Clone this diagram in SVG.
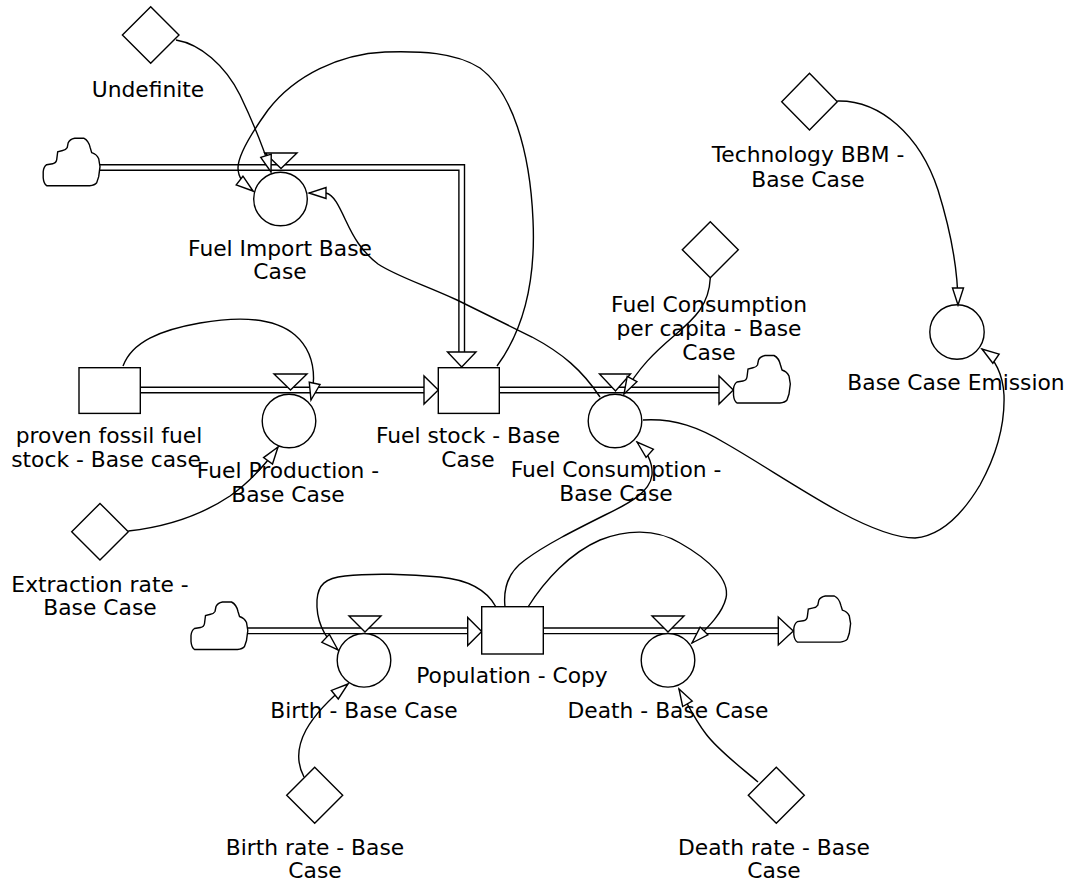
<svg xmlns="http://www.w3.org/2000/svg" width="1074" height="888" viewBox="0 0 1074 888">
  <style>
    .ln { fill: none; stroke: #000; stroke-width: 1.4; }
    .sh { fill: #fff; stroke: #000; stroke-width: 1.4; }
    .pipe-o { fill: none; stroke: #000; stroke-width: 7; stroke-linejoin: miter; }
    .pipe-i { fill: none; stroke: #fff; stroke-width: 4.2; stroke-linejoin: miter; }
    .lbl { font-family: "DejaVu Sans", "Liberation Sans", sans-serif; font-size: 21.8px; fill: #000; text-anchor: middle; }
    .cn { fill: none; stroke: #000; stroke-width: 1.4; marker-end: url(#ah); }
  </style>
  <defs>
    <marker id="ah" viewBox="-19 -8 21 16" refX="0" refY="0" markerWidth="21" markerHeight="16" markerUnits="userSpaceOnUse" orient="auto">
      <path d="M0,0 L-17,-5.5 L-17,5.5 Z" fill="#fff" stroke="#000" stroke-width="1.4"/>
    </marker>
    <path id="cloud" d="M4,48 L47,48 Q52,47.5 54,45 L56,39 L57.3,29 L56,21 Q54,16.5 49,15 L47.5,10 Q46,3 41,0.5 L32,0.5 Q27,1.5 25.5,5 L24.5,10 Q23,12.5 20,12.8 L15,14 L14,22 Q13.5,25.5 10,26 L4,27 Q1,29 0.5,34 L0.5,40 Q1,46 4,48 Z"/>
  </defs>

  <rect width="1074" height="888" fill="#fff"/>

  <!-- material flows (double pipes) -->
  <g id="flows">
    <path class="pipe-o" d="M96,167.5 H461.7 V352"/>
    <path class="pipe-i" d="M96,167.5 H461.7 V352"/>
    <path class="pipe-o" d="M140,390 H424"/>
    <path class="pipe-i" d="M140,390 H424"/>
    <path class="pipe-o" d="M499,390 H719"/>
    <path class="pipe-i" d="M499,390 H719"/>
    <path class="pipe-o" d="M244,630.8 H468"/>
    <path class="pipe-i" d="M244,630.8 H468"/>
    <path class="pipe-o" d="M543,630.8 H778.3"/>
    <path class="pipe-i" d="M543,630.8 H778.3"/>
    <!-- flow arrowheads -->
    <polygon class="sh" points="447.5,352 476,352 461.7,367"/>
    <polygon class="sh" points="424,376 424,404 438.3,390"/>
    <polygon class="sh" points="719,376 719,404 733.3,390"/>
    <polygon class="sh" points="467.7,617.5 467.7,645.5 481.7,631.5"/>
    <polygon class="sh" points="778.3,617 778.3,645 793.3,631"/>
  </g>

  <!-- sources and sinks -->
  <g id="cloud-import"><use href="#cloud" class="sh" transform="translate(42.7,137.7)"/></g>
  <g id="cloud-fuel-out"><use href="#cloud" class="sh" transform="translate(733,355)"/></g>
  <g id="cloud-birth-in"><use href="#cloud" class="sh" transform="translate(190.5,601.5)"/></g>
  <g id="cloud-death-out"><use href="#cloud" class="sh" transform="translate(793.3,595.5) scale(1,0.97)"/></g>

  <!-- stocks -->
  <g id="proven-stock"><rect class="sh" x="79" y="367.7" width="61.3" height="45.7"/></g>
  <g id="fuel-stock"><rect class="sh" x="438.3" y="367.7" width="61" height="45.7"/></g>
  <g id="population"><rect class="sh" x="481.7" y="606.7" width="61.6" height="47.3"/></g>

  <!-- rates -->
  <g id="fuel-import">
    <circle class="sh" cx="280.5" cy="199" r="26.8"/>
    <polygon class="sh" points="265,153 297,153 281,168.5"/>
  </g>
  <g id="fuel-production">
    <circle class="sh" cx="289" cy="421" r="26.8"/>
    <polygon class="sh" points="274,374 307,374 290.5,390"/>
  </g>
  <g id="fuel-consumption">
    <circle class="sh" cx="615" cy="421" r="26.8"/>
    <polygon class="sh" points="599.5,374 630.5,374 615.5,391"/>
  </g>
  <g id="birth">
    <circle class="sh" cx="364" cy="660.3" r="26.8"/>
    <polygon class="sh" points="349,616 381,616 365,632"/>
  </g>
  <g id="death">
    <circle class="sh" cx="668" cy="660.3" r="26.8"/>
    <polygon class="sh" points="652,616 684,616 668,632"/>
  </g>

  <!-- auxiliaries -->
  <g id="base-case-emission"><circle class="sh" cx="957" cy="332" r="27.2"/></g>

  <!-- constants -->
  <g id="undefinite"><polygon class="sh" points="150.7,6.7 179,35 150.7,63.3 122.4,35"/></g>
  <g id="consumption-per-capita"><polygon class="sh" points="710.3,221.7 738.3,249.7 710.3,277.7 682.3,249.7"/></g>
  <g id="technology-bbm"><polygon class="sh" points="809.5,73.3 837.3,101.7 809.5,130 781.7,101.7"/></g>
  <g id="extraction-rate"><polygon class="sh" points="100,503.4 128.3,531.7 100,560 71.7,531.7"/></g>
  <g id="birth-rate"><polygon class="sh" points="314.7,767.3 342.7,795.3 314.7,823.3 286.7,795.3"/></g>
  <g id="death-rate"><polygon class="sh" points="776.3,767.3 804.3,795.3 776.3,823.3 748.3,795.3"/></g>

  <!-- information links -->
  <g id="connectors">
    <path class="cn" d="M176,40 C200,44 225,65 240,95 C252,120 263,146 271,172"/>
    <path class="cn" d="M497,366 C522,332 536,285 533,220 C530,150 512,92 480,68 C455,52 420,51 385,52 C340,54 295,75 268,110 C250,135 238,155 238,168 C238,178 244,184 253,191"/>
    <path class="cn" d="M600,397 C582,370 562,353 532,337 L457,300 C422,284 396,276 378,264 C361,251 353,236 346,221 C339,206 334,195 326,193 L309,193"/>
    <path class="cn" d="M123,366 C132,342 160,330 200,323 C240,316 275,318 295,335 C310,348 318,368 311,400"/>
    <path class="cn" d="M128.3,531 C165,527 200,516 230,496 C250,482 265,465 278,447"/>
    <path class="cn" d="M710.3,278 C709,305 695,318 675,335 C655,352 638,368 624,394"/>
    <path class="cn" d="M837.3,101 C880,100 920,135 938,190 C952,235 958,270 958,305"/>
    <path class="cn" d="M643,420 C675,418 700,428 725,443 C760,463 800,490 840,512 C870,528 895,538 915,538 C940,536 962,515 980,485 C996,456 1005,425 1004,395 C1003,375 995,358 982,349"/>
    <path class="cn" d="M496,607 C488,592 470,580 440,577 C410,574 370,573 345,576 C325,578 318,585 317,600 C316,618 322,635 338,650"/>
    <path class="cn" d="M505,607 C503,588 508,572 525,560 C545,545 575,530 605,515 C630,503 650,492 652,475 C653,462 646,450 637,442"/>
    <path class="cn" d="M528,607 C545,580 570,553 600,540 C625,530 655,528 680,543 C710,560 730,580 726,598 C722,615 705,630 692,643"/>
    <path class="cn" d="M304,777 C296,762 298,745 306,730 C316,712 332,697 348,684"/>
    <path class="cn" d="M758,782 C738,765 718,750 706,734 C695,720 687,703 679,689"/>
  </g>

  <!-- names -->
  <g id="labels">
    <text class="lbl" x="148" y="97">Undefinite</text>
    <text class="lbl" x="280" y="256">Fuel Import Base</text>
    <text class="lbl" x="280" y="279">Case</text>
    <text class="lbl" x="808" y="162">Technology BBM -</text>
    <text class="lbl" x="808" y="187">Base Case</text>
    <text class="lbl" x="709" y="312">Fuel Consumption</text>
    <text class="lbl" x="709" y="336">per capita - Base</text>
    <text class="lbl" x="709" y="360">Case</text>
    <text class="lbl" x="956" y="390">Base Case Emission</text>
    <text class="lbl" x="109" y="443">proven fossil fuel</text>
    <text class="lbl" x="106" y="467">stock - Base case</text>
    <text class="lbl" x="468" y="443">Fuel stock - Base</text>
    <text class="lbl" x="468" y="467">Case</text>
    <text class="lbl" x="288" y="478">Fuel Production -</text>
    <text class="lbl" x="288" y="502">Base Case</text>
    <text class="lbl" x="616" y="477">Fuel Consumption -</text>
    <text class="lbl" x="616" y="501">Base Case</text>
    <text class="lbl" x="100" y="592">Extraction rate -</text>
    <text class="lbl" x="100" y="615">Base Case</text>
    <text class="lbl" x="512" y="683">Population - Copy</text>
    <text class="lbl" x="364" y="718">Birth - Base Case</text>
    <text class="lbl" x="668" y="718">Death - Base Case</text>
    <text class="lbl" x="315" y="855">Birth rate - Base</text>
    <text class="lbl" x="315" y="878">Case</text>
    <text class="lbl" x="774" y="855">Death rate - Base</text>
    <text class="lbl" x="774" y="878">Case</text>
  </g>
</svg>
